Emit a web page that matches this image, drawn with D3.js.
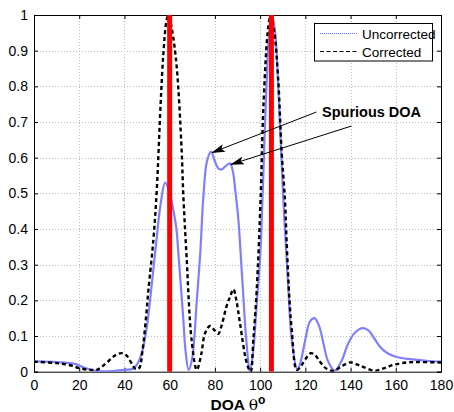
<!DOCTYPE html>
<html>
<head>
<meta charset="utf-8">
<script src="https://cdn.jsdelivr.net/npm/d3@7"></script>
<style>
  body { margin: 0; background: #fff; }
  svg { display: block; font-family: "Liberation Sans", Arial, sans-serif; }
</style>
</head>
<body>
<div class="paint"></div>
<script>
// angle ticks and value ticks
var xTicks = [0, 20, 40, 60, 80, 100, 120, 140, 160, 180];
var yTicks = [0, 0.1, 0.2, 0.3, 0.4, 0.5, 0.6, 0.7, 0.8, 0.9, 1];
var yTickLabels = ["0", "0.1", "0.2", "0.3", "0.4", "0.5", "0.6", "0.7", "0.8", "0.9", "1"];

// true DOAs (red bars)
var trueDoa = [60, 105];

// uncorrected spectrum [angle, value]
var uncorrected = [
  [0, 0.029], [10, 0.027], [18, 0.022], [22, 0.012], [26, 0.004], [30, 0.001], [35, 0.002],
  [40, 0.005], [44, 0.009], [46, 0.025], [48, 0.06], [50, 0.13], [52, 0.24], [54, 0.36],
  [56, 0.47], [58, 0.53], [60, 0.5], [62, 0.44], [63, 0.4], [64, 0.32], [66, 0.15], [67, 0.06],
  [68.4, 0.005], [70, 0.04], [72, 0.2], [73.5, 0.33], [75, 0.5], [76.5, 0.59], [78.3, 0.617],
  [80, 0.59], [81.5, 0.57], [83, 0.567], [85, 0.578], [86.7, 0.584], [88, 0.56], [89, 0.51],
  [90.4, 0.425], [92, 0.27], [94, 0.08], [95.5, 0.0], [97, 0.06], [98.5, 0.19], [100, 0.32],
  [101.2, 0.51], [102.5, 0.75], [104, 0.95], [105, 1.0], [106.5, 0.96], [108, 0.8],
  [110.3, 0.48], [112.5, 0.229], [114, 0.089], [116.5, 0.005], [118, 0.03], [120, 0.09],
  [122, 0.14], [124, 0.15], [126, 0.13], [128, 0.08], [130, 0.03], [133, 0.003], [136, 0.03],
  [139, 0.08], [142, 0.11], [145.5, 0.122], [148, 0.115], [150, 0.098], [153, 0.07],
  [156, 0.053], [160, 0.042], [165, 0.036], [170, 0.033], [175, 0.03], [180, 0.028]
];

// corrected spectrum [angle, value]
var corrected = [
  [0, 0.028], [10, 0.024], [16, 0.018], [20, 0.01], [25, 0.005], [28, 0.006], [30, 0.014],
  [33, 0.03], [36, 0.046], [38.8, 0.052], [41, 0.045], [43, 0.025], [45, 0.007], [46.5, 0.01],
  [48, 0.06], [49.5, 0.15], [50.6, 0.229], [52.8, 0.37], [54.3, 0.51], [56, 0.75], [57.2, 0.89],
  [58.5, 0.98], [59.4, 1.0], [61, 0.96], [63.1, 0.855], [65.3, 0.62], [66, 0.5], [67.5, 0.32],
  [69.7, 0.089], [72, 0.005], [74, 0.05], [75.6, 0.107], [77.8, 0.128], [80, 0.115],
  [81.5, 0.106], [83, 0.13], [85, 0.18], [86.7, 0.21], [88.2, 0.231], [89.5, 0.2],
  [91.1, 0.136], [94.1, 0.024], [95.8, 0.0], [97, 0.09], [98.5, 0.229], [100.3, 0.5],
  [101.5, 0.75], [103.6, 0.967], [104.7, 1.0], [106.3, 0.95], [108, 0.82], [109.5, 0.62],
  [111, 0.48], [111.7, 0.37], [113, 0.2], [114, 0.117], [116.2, 0.005], [118, 0.015],
  [120, 0.035], [122.5, 0.052], [124.5, 0.045], [126.5, 0.028], [129, 0.01], [132.4, 0.002],
  [136, 0.015], [139.8, 0.026], [143, 0.02], [145.7, 0.013], [150.8, 0.003], [155, 0.01],
  [158.9, 0.019], [164.9, 0.026], [170, 0.027], [180, 0.026]
];

// spurious peaks pointed at by the arrows [angle, value]
var spurious = [[78.3, 0.617], [86.7, 0.584]];

var main;
(function (main) {
    var W = 454, H = 412;
    var left = 34, right = 441, top = 15, bottom = 371.7;

    function ini() {
        var svg = d3.select(".paint").append("svg")
            .attr("width", W).attr("height", H);

        var x = d3.scaleLinear().domain([0, 180]).range([left, right]);
        var y = d3.scaleLinear().domain([0, 1]).range([bottom, top]);

        svg.append("defs").append("clipPath").attr("id", "clip")
            .append("rect")
            .attr("x", left).attr("y", top)
            .attr("width", right - left).attr("height", bottom - top);
        var marker = svg.select("defs").append("marker")
            .attr("id", "arrow")
            .attr("viewBox", "0 0 14 8")
            .attr("refX", 13).attr("refY", 4)
            .attr("markerWidth", 14).attr("markerHeight", 8)
            .attr("markerUnits", "userSpaceOnUse")
            .attr("orient", "auto");
        marker.append("path").attr("d", "M0,0 L14,4 L0,8 L3,4 Z").attr("fill", "#000");

        // grid
        var grid = svg.append("g").attr("class", "grid")
            .attr("stroke", "#bdbdbd").attr("stroke-width", 1).attr("stroke-dasharray", "1,2");
        grid.selectAll(".gx").data(xTicks.slice(1, -1)).enter().append("line")
            .attr("x1", (d) => Math.round(x(d)) + 0.5).attr("x2", (d) => Math.round(x(d)) + 0.5)
            .attr("y1", top).attr("y2", bottom);
        grid.selectAll(".gy").data(yTicks.slice(1, -1)).enter().append("line")
            .attr("y1", (d) => Math.round(y(d)) + 0.5).attr("y2", (d) => Math.round(y(d)) + 0.5)
            .attr("x1", left).attr("x2", right);

        // axes (ticks inward)
        var xAxis = d3.axisBottom(x).tickValues(xTicks).tickSize(-4).tickPadding(8);
        var xAxisTop = d3.axisTop(x).tickValues(xTicks).tickSize(-4).tickFormat("");
        var yAxis = d3.axisLeft(y).tickValues(yTicks).tickSize(-4).tickPadding(8)
            .tickFormat((d, i) => yTickLabels[i]);
        var yAxisRight = d3.axisRight(y).tickValues(yTicks).tickSize(-4).tickFormat("");

        svg.append("g").attr("transform", "translate(0," + bottom + ")").call(xAxis);
        svg.append("g").attr("transform", "translate(0," + top + ")").call(xAxisTop);
        var gy = svg.append("g").attr("transform", "translate(" + left + ",0)").call(yAxis);
        svg.append("g").attr("transform", "translate(" + right + ",0)").call(yAxisRight);
        svg.selectAll(".domain").attr("stroke", "#000");
        svg.selectAll(".tick line").attr("stroke", "#000");
        svg.selectAll(".tick text").attr("font-size", 14).attr("fill", "#000")
            .attr("font-family", "'Liberation Sans', Arial, sans-serif");
        gy.selectAll(".tick text").attr("dx", 2);

        var plot = svg.append("g").attr("clip-path", "url(#clip)");

        var line = d3.line()
            .x((d) => x(d[0])).y((d) => y(d[1]))
            .curve(d3.curveCatmullRom.alpha(0.5));

        plot.append("path").datum(uncorrected)
            .attr("d", line).attr("fill", "none")
            .attr("stroke", "#7f7fff").attr("stroke-width", 2.2);
        plot.append("path").datum(corrected)
            .attr("d", line).attr("fill", "none")
            .attr("stroke", "#000").attr("stroke-width", 2.4)
            .attr("stroke-dasharray", "4,3");

        // red true-DOA bars over the curves
        plot.selectAll(".doa").data(trueDoa).enter().append("line")
            .attr("x1", (d) => x(d)).attr("x2", (d) => x(d))
            .attr("y1", y(0)).attr("y2", y(1))
            .attr("stroke", "#ff0000").attr("stroke-width", 5);

        // annotation
        svg.append("text").attr("x", 322).attr("y", 117)
            .attr("font-size", 14.5).attr("font-weight", "bold").attr("fill", "#000")
            .text("Spurious DOA");
        var starts = [[316.5, 112], [351.5, 126]];
        svg.selectAll(".arrowLine").data(spurious).enter().append("line")
            .attr("x1", (d, i) => starts[i][0]).attr("y1", (d, i) => starts[i][1])
            .attr("x2", (d) => x(d[0]) + 1).attr("y2", (d) => y(d[1]) + 1)
            .attr("stroke", "#000").attr("stroke-width", 1)
            .attr("marker-end", "url(#arrow)");

        // legend
        var lg = svg.append("g");
        lg.append("rect").attr("x", 314.5).attr("y", 23.5).attr("width", 118).attr("height", 37.5)
            .attr("fill", "#fff").attr("stroke", "#000").attr("stroke-width", 1);
        lg.append("line").attr("x1", 320).attr("x2", 357).attr("y1", 33.5).attr("y2", 33.5)
            .attr("stroke", "#7070ff").attr("stroke-width", 1).attr("stroke-dasharray", "1,1");
        lg.append("line").attr("x1", 320).attr("x2", 357).attr("y1", 51.5).attr("y2", 51.5)
            .attr("stroke", "#000").attr("stroke-width", 1.2).attr("stroke-dasharray", "4,2.5");
        lg.append("text").attr("x", 362).attr("y", 38.5).attr("font-size", 13.5).text("Uncorrected");
        lg.append("text").attr("x", 362).attr("y", 56.5).attr("font-size", 13.5).text("Corrected");

        // x label
        var xl = svg.append("text").attr("x", 210.5).attr("y", 409.5).attr("fill", "#000");
        xl.append("tspan").attr("font-weight", "bold").attr("font-size", 15.5).text("DOA ");
        xl.append("tspan").attr("font-size", 15.5).attr("font-family", "'DejaVu Serif', serif")
            .text("θ");
        xl.append("tspan").attr("font-weight", "bold").attr("font-size", 12).attr("dy", -6).text("o");
    }
    main.ini = ini;
})(main || (main = {}));
main.ini();
</script>
</body>
</html>
